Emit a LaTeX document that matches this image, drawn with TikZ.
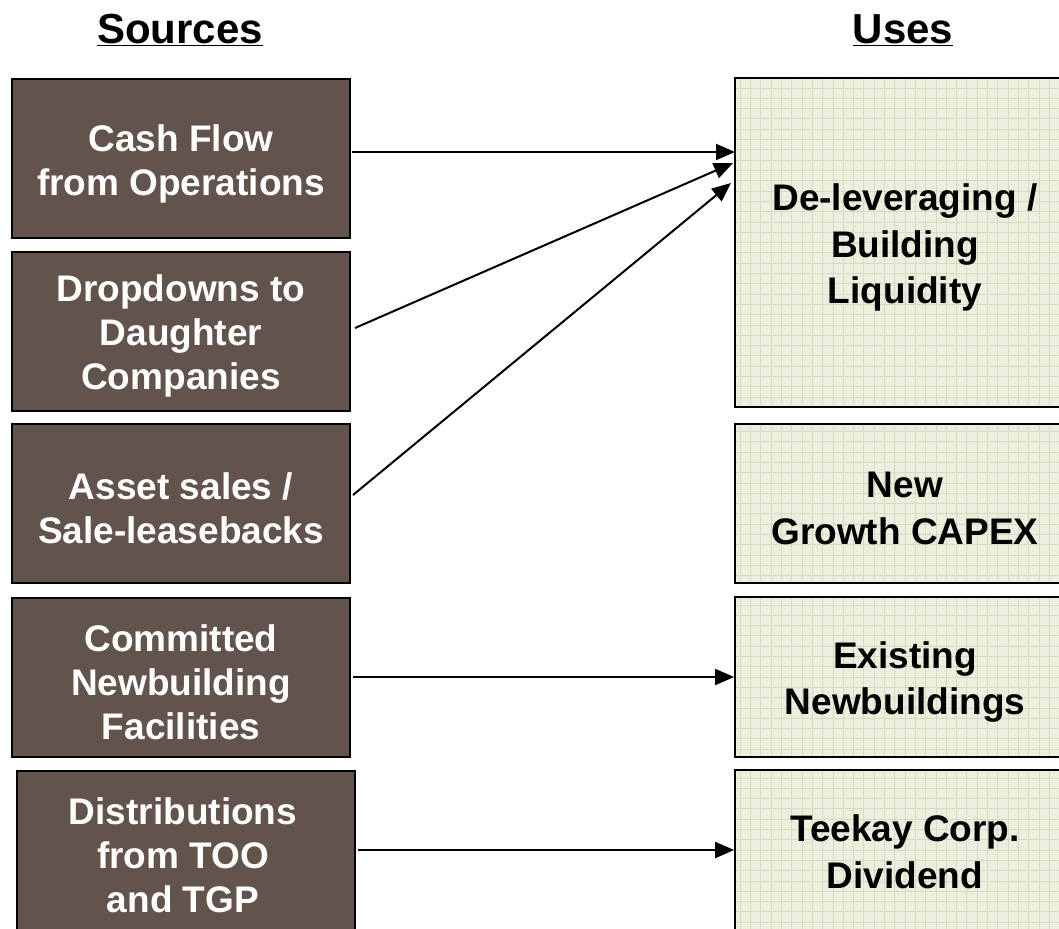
\documentclass[tikz,border=0pt]{standalone}
\usepackage{fontspec}
\setmainfont{Liberation Sans}
\usetikzlibrary{arrows.meta}
\definecolor{srcfill}{HTML}{62534D}
\definecolor{usefill}{HTML}{EEEEDF}
\definecolor{gridc}{HTML}{DADAC2}
\begin{document}
\begin{tikzpicture}[x=1pt,y=-1pt,
  srcbox/.style={draw=black, line width=2pt, fill=srcfill,
    minimum width=338pt, minimum height=159pt, inner sep=0pt},
  srctext/.style={text=white, align=center, inner sep=0pt, yshift=-5pt,
    font=\fontsize{37}{44}\selectfont\bfseries},
  usebox/.style={draw=black, line width=1.8pt, fill=usefill,
    minimum width=340pt, inner sep=0pt,
    path picture={\draw[gridc, line width=0.8pt, step=10.3pt]
      (path picture bounding box.south west) grid (path picture bounding box.north east);}},
  usetext/.style={text=black, align=center, inner sep=0pt, yshift=-5pt,
    font=\fontsize{37}{46.5}\selectfont\bfseries},
  head/.style={font=\fontsize{42}{48}\selectfont\bfseries, inner sep=0pt},
  flow/.style={draw=black, line width=2pt, -{Triangle[length=19pt,width=16pt]}}
]
\useasboundingbox (0,0) rectangle (1059,928);

\node[head] (hs) at (180,30) {\underline{Sources}};
\node[head] (hu) at (903,30) {\underline{Uses}};

\node[srcbox] (L1) at (181,158.5) {};
\node[srcbox] (L2) at (181,331) {};
\node[srcbox] (L3) at (181,503.5) {};
\node[srcbox] (L4) at (181,677) {};
\node[srcbox] (L5) at (186,850) {};
\node[srctext] (L1t) at (L1.center) {Cash Flow\\from Operations};
\node[srctext] (L2t) at (L2.center) {Dropdowns to\\Daughter\\Companies};
\node[srctext] (L3t) at (L3.center) {Asset sales /\\Sale-leasebacks};
\node[srctext] (L4t) at (L4.center) {Committed\\Newbuilding\\Facilities};
\node[srctext, xshift=-3pt] (L5t) at (L5.center) {Distributions\\from TOO\\and TGP};

\node[usebox, minimum height=329pt] (R1) at (905,242.5) {};
\node[usebox, minimum height=159pt] (R2) at (905,503.5) {};
\node[usebox, minimum height=160pt] (R3) at (905,677) {};
\node[usebox, minimum height=160pt] (R4) at (905,850) {};
\node[usetext] (R1t) at (R1.center) {De-leveraging /\\Building\\Liquidity};
\node[usetext] (R2t) at (R2.center) {New\\Growth CAPEX};
\node[usetext] (R3t) at (R3.center) {Existing\\Newbuildings};
\node[usetext, yshift=3pt] (R4t) at (R4.center) {Teekay Corp.\\Dividend};

\coordinate (t1) at (735,152);
\coordinate (t2) at (733,163);
\coordinate (t3) at (731,183);
\coordinate (s1) at (352,152);
\coordinate (s2) at (355,328);
\coordinate (s3) at (353,495);

\draw[flow] (s1) -- (t1);
\draw[flow] (s2) -- (t2);
\draw[flow] (s3) -- (t3);
\draw[flow] ([xshift=2pt]L4.east) -- (L4.east -| R3.west);
\draw[flow] ([xshift=2pt]L5.east) -- (L5.east -| R4.west);
\end{tikzpicture}
\end{document}
